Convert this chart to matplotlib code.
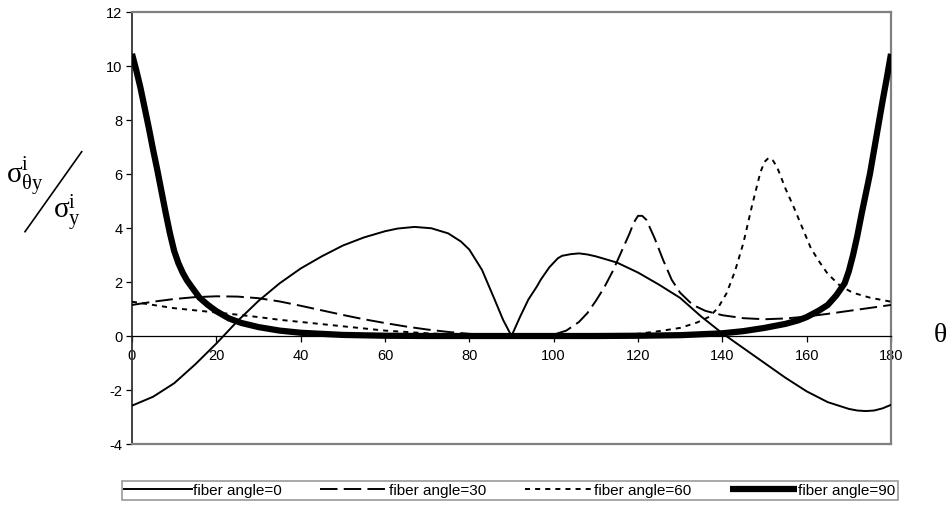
import numpy as np
import matplotlib
matplotlib.use('Agg')
import matplotlib.pyplot as plt
from matplotlib.lines import Line2D

plt.rcParams['font.family'] = ['Liberation Sans', 'DejaVu Sans']
plt.rcParams['mathtext.fontset'] = 'custom'
plt.rcParams['mathtext.rm'] = 'Liberation Serif'
plt.rcParams['mathtext.it'] = 'Liberation Serif'
plt.rcParams['mathtext.default'] = 'rm'

# values
theta0 = [0, 5, 10, 15, 20, 25, 30, 35, 40, 45, 50, 55, 60, 63, 67, 71, 75, 78, 80, 83, 86,
          88, 90, 92, 94, 96, 97, 99, 101, 102, 104, 106, 108, 110, 115, 120, 125, 130, 135,
          140, 145, 150, 155, 160, 165, 170, 172, 174, 176, 178, 180]
fiber0 = [-2.58, -2.25, -1.75, -1.05, -0.28, 0.55, 1.3, 1.95, 2.5, 2.95, 3.35, 3.65, 3.88,
          3.98, 4.04, 3.99, 3.8, 3.5, 3.2, 2.45, 1.35, 0.6, 0.0,
          0.7, 1.35, 1.83, 2.1, 2.55, 2.88, 2.97, 3.03, 3.06, 3.02, 2.95, 2.72, 2.35, 1.9,
          1.41, 0.72, 0.1, -0.45, -1.0, -1.55, -2.05, -2.45, -2.7, -2.76, -2.78, -2.76,
          -2.68, -2.55]

theta30 = [0, 5, 10, 15, 20, 25, 30, 35, 40, 45, 50, 55, 60, 65, 70, 75, 80, 85, 90, 95,
           100, 103, 106, 108, 110, 112, 114, 116, 118, 119, 120, 121, 122, 124, 126, 128,
           130, 133, 136, 140, 145, 150, 155, 160, 165, 170, 175, 180]
fiber30 = [1.15, 1.27, 1.37, 1.44, 1.47, 1.46, 1.4, 1.28, 1.12, 0.95, 0.78, 0.62, 0.48,
           0.35, 0.24, 0.15, 0.08, 0.04, 0.02, 0.02, 0.05, 0.2, 0.52, 0.85, 1.3, 1.8, 2.4,
           3.1, 3.8, 4.2, 4.45, 4.45, 4.3, 3.6, 2.8, 2.08, 1.6, 1.15, 0.93, 0.77, 0.66,
           0.62, 0.65, 0.72, 0.82, 0.93, 1.04, 1.15]

theta60 = [0, 5, 10, 15, 20, 25, 30, 35, 40, 45, 50, 55, 60, 70, 80, 90, 100, 110, 115,
           120, 125, 130, 134, 137, 139, 141, 143, 145, 147, 149, 150, 151, 152, 153, 155,
           157, 159, 161, 163, 165, 168, 171, 175, 180]
fiber60 = [1.27, 1.15, 1.03, 0.95, 0.87, 0.79, 0.7, 0.6, 0.52, 0.44, 0.36, 0.28, 0.2, 0.1,
           0.03, 0.0, 0.01, 0.02, 0.04, 0.08, 0.18, 0.3, 0.5, 0.72, 1.05, 1.58, 2.4, 3.45,
           4.8, 6.05, 6.45, 6.6, 6.5, 6.25, 5.45, 4.75, 4.0, 3.25, 2.75, 2.3, 1.85, 1.6,
           1.42, 1.27]

theta90 = [0, 1, 2, 3, 4, 5, 6, 7, 8, 9, 10, 11, 12, 13, 14, 16, 18, 20, 23, 26, 30, 35,
           40, 50, 60, 70, 90, 110, 120, 130, 140, 145, 150, 155, 158, 160, 163, 165, 167,
           169, 170, 171, 172, 173, 174, 175, 176, 177, 178, 179, 180]
fiber90 = [10.45, 9.85, 9.2, 8.45, 7.7, 6.9, 6.15, 5.35, 4.55, 3.8, 3.15, 2.7, 2.35, 2.07,
           1.85, 1.42, 1.15, 0.92, 0.65, 0.48, 0.33, 0.2, 0.12, 0.04, 0.01, 0.0, 0.0, 0.0,
           0.01, 0.03, 0.1, 0.18, 0.3, 0.45, 0.58, 0.7, 0.95, 1.15, 1.5, 1.95, 2.4, 3.0,
           3.7, 4.5, 5.25, 6.0, 6.9, 7.8, 8.7, 9.55, 10.45]

labels = ['fiber angle=0', 'fiber angle=30', 'fiber angle=60', 'fiber angle=90']
xticks = [0, 20, 40, 60, 80, 100, 120, 140, 160, 180]
yticks = [-4, -2, 0, 2, 4, 6, 8, 10, 12]

fig = plt.figure(figsize=(9.5, 5.08), dpi=100)
ax = fig.add_axes([132 / 950, 64 / 508, 759 / 950, 432 / 508])

gray = '#808080'
ax.plot(theta0, fiber0, color='black', lw=1.4, label=labels[0], zorder=3)
ax.plot(theta30, fiber30, color='black', lw=1.4, ls=(0, (9, 3.2)), label=labels[1], zorder=3)
ax.plot(theta60, fiber60, color='black', lw=1.4, ls=(0, (2.6, 2.6)), label=labels[2], zorder=3)
ax.plot(theta90, fiber90, color='black', lw=4.5, label=labels[3], zorder=4,
        solid_capstyle='butt', solid_joinstyle='round')

ax.set_xlim(0, 180)
ax.set_ylim(-4, 12)
ax.set_xticks(xticks)
ax.set_yticks(yticks)

# x axis drawn through zero, grey frame around the plot
ax.spines['bottom'].set_position(('data', 0))
ax.spines['bottom'].set_color('black')
ax.spines['bottom'].set_linewidth(0.9)
ax.spines['left'].set_color('#333333')
ax.spines['left'].set_linewidth(1.3)
for s in ['top', 'right']:
    ax.spines[s].set_color(gray)
    ax.spines[s].set_linewidth(1.6)
ax.axhline(-4, color=gray, lw=1.6, clip_on=False, zorder=5)

ax.tick_params(axis='x', direction='out', length=4, width=0.9, pad=5, labelsize=10.5)
ax.tick_params(axis='y', direction='out', length=4, width=0.9, pad=3, labelsize=10.5)
ax.set_yticklabels([str(v) for v in yticks])

# y label drawn as a slashed fraction
fig.text(6 / 950, 1 - 183 / 508, r'$\sigma^{i}_{\theta y}$', fontsize=21,
         ha='left', va='baseline')
fig.text(53 / 950, 1 - 219 / 508, r'$\sigma^{i}_{y}$', fontsize=21,
         ha='left', va='baseline')
fig.add_artist(Line2D([25 / 950, 81.7 / 950], [1 - 231.7 / 508, 1 - 151.7 / 508],
                      color='black', lw=1.2, transform=fig.transFigure))
fig.text(940 / 950, 1 - 342 / 508, r'$\theta$', fontsize=20, ha='center', va='baseline')

leg = fig.legend(loc='lower left', ncol=4, mode='expand',
                 bbox_to_anchor=(122 / 950, 1 - 500 / 508, 776 / 950, 22 / 508),
                 borderaxespad=0, handlelength=4.4, handletextpad=0.1,
                 fontsize=11, frameon=True, fancybox=False, borderpad=0.15)
leg.get_frame().set_edgecolor(gray)
leg.get_frame().set_linewidth(1.2)

fig.savefig('out.png', dpi=100)
